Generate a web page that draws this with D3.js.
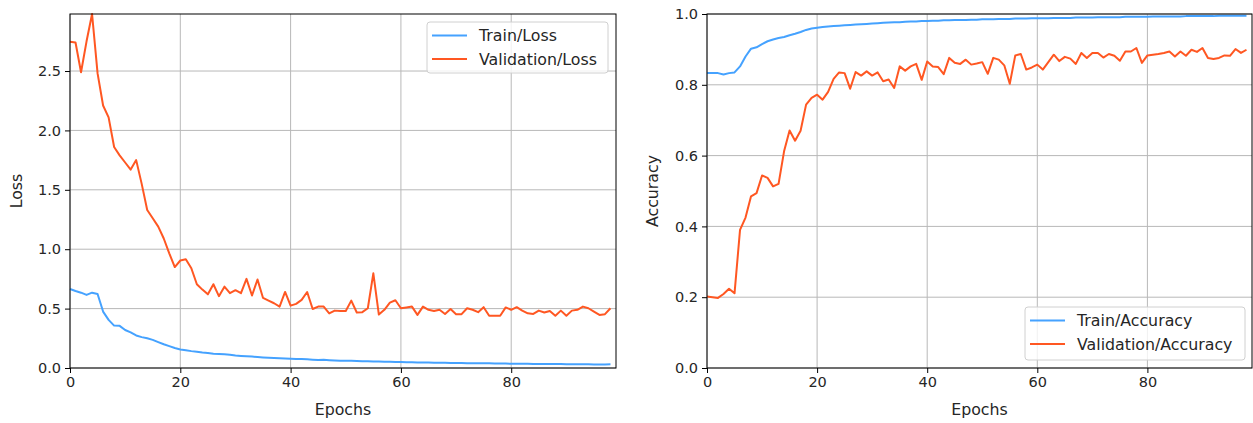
<!DOCTYPE html>
<html>
<head>
<meta charset="utf-8">
<script src="https://cdn.jsdelivr.net/npm/d3@7"></script>
<style>
  html, body { margin: 0; padding: 0; background: #fff; }
  svg { display: block; font-family: "DejaVu Sans", sans-serif; }
</style>
</head>
<body>
<svg id="chart" width="1253" height="423"></svg>
<script>
// ---------- data ----------
const epochs = d3.range(99);

const trainLoss = [0.665,0.648,0.634,0.615,0.634,0.623,0.475,0.405,0.357,0.355,
  0.320,0.300,0.274,0.260,0.250,0.237,0.218,0.200,0.184,0.168,
  0.156,0.150,0.142,0.136,0.130,0.126,0.120,0.117,0.115,0.112,
  0.106,0.102,0.099,0.096,0.092,0.089,0.087,0.085,0.083,0.080,
  0.078,0.076,0.075,0.073,0.070,0.068,0.069,0.066,0.064,0.062,
  0.060,0.060,0.058,0.057,0.056,0.055,0.054,0.053,0.052,0.051,
  0.050,0.049,0.048,0.047,0.047,0.046,0.045,0.045,0.044,0.043,
  0.043,0.042,0.041,0.041,0.040,0.040,0.039,0.038,0.038,0.037,
  0.036,0.036,0.036,0.035,0.034,0.034,0.034,0.033,0.033,0.033,
  0.032,0.032,0.031,0.031,0.031,0.030,0.030,0.030,0.032];

const valLoss = [2.746,2.740,2.490,2.750,2.980,2.480,2.210,2.110,1.860,1.790,
  1.730,1.670,1.750,1.550,1.330,1.260,1.190,1.090,0.965,0.850,
  0.905,0.915,0.840,0.705,0.660,0.620,0.705,0.605,0.685,0.630,
  0.655,0.630,0.750,0.610,0.745,0.590,0.567,0.545,0.517,0.640,
  0.525,0.540,0.573,0.640,0.497,0.517,0.517,0.460,0.483,0.480,
  0.480,0.567,0.467,0.470,0.503,0.797,0.450,0.490,0.550,0.570,
  0.503,0.510,0.517,0.447,0.517,0.490,0.480,0.490,0.455,0.497,
  0.453,0.453,0.503,0.490,0.470,0.512,0.440,0.440,0.440,0.510,
  0.490,0.512,0.483,0.460,0.455,0.483,0.467,0.480,0.440,0.483,
  0.440,0.483,0.490,0.517,0.503,0.475,0.447,0.453,0.503];

const trainAcc = [0.833,0.833,0.833,0.829,0.833,0.835,0.852,0.880,0.902,0.906,
  0.915,0.923,0.928,0.932,0.935,0.940,0.944,0.949,0.955,0.959,
  0.961,0.963,0.965,0.966,0.967,0.968,0.969,0.970,0.971,0.972,
  0.973,0.974,0.975,0.976,0.977,0.977,0.978,0.979,0.979,0.980,
  0.980,0.981,0.981,0.982,0.982,0.983,0.983,0.983,0.984,0.984,
  0.985,0.985,0.985,0.986,0.986,0.986,0.987,0.987,0.987,0.988,
  0.988,0.988,0.988,0.989,0.989,0.989,0.989,0.990,0.990,0.990,
  0.990,0.991,0.991,0.991,0.991,0.991,0.992,0.992,0.992,0.992,
  0.992,0.993,0.993,0.993,0.993,0.993,0.993,0.994,0.994,0.994,
  0.994,0.994,0.994,0.995,0.995,0.995,0.995,0.995,0.995];

const valAcc = [0.202,0.200,0.198,0.209,0.224,0.211,0.390,0.425,0.485,0.494,
  0.544,0.537,0.513,0.520,0.612,0.671,0.642,0.670,0.744,0.763,
  0.772,0.758,0.780,0.817,0.835,0.833,0.789,0.836,0.826,0.838,
  0.826,0.835,0.810,0.815,0.791,0.852,0.840,0.852,0.859,0.814,
  0.866,0.852,0.850,0.830,0.876,0.862,0.859,0.871,0.857,0.860,
  0.864,0.831,0.876,0.871,0.855,0.803,0.883,0.887,0.843,0.849,
  0.857,0.843,0.864,0.885,0.867,0.879,0.874,0.859,0.890,0.876,
  0.890,0.890,0.877,0.887,0.882,0.868,0.894,0.894,0.904,0.862,
  0.883,0.885,0.887,0.890,0.894,0.880,0.894,0.882,0.899,0.893,
  0.904,0.876,0.873,0.876,0.883,0.882,0.901,0.890,0.899];

const xTicks = [0, 20, 40, 60, 80];
const lossTicks = [0.0, 0.5, 1.0, 1.5, 2.0, 2.5];
const accTicks = [0.0, 0.2, 0.4, 0.6, 0.8, 1.0];
const seriesColors = { train: "#45a2ff", val: "#ff5722" };

// ---------- layout ----------
const svg = d3.select("#chart");
const TICK_FONT = 14.5;
const LABEL_FONT = 15.8;
const TEXT = "#262626";

function panel(opts) {
  const { left, right, top, bottom } = opts;
  const x = d3.scaleLinear().domain([0, 99]).range([left, right]);
  const y = d3.scaleLinear().domain(opts.yDomain).range([bottom, top]);
  const g = svg.append("g");

  // grid
  g.append("g").selectAll("line").data(xTicks).join("line")
    .attr("x1", d => x(d)).attr("x2", d => x(d))
    .attr("y1", top).attr("y2", bottom)
    .attr("stroke", "#b8b8b8").attr("stroke-width", 1);
  g.append("g").selectAll("line").data(opts.yTicks).join("line")
    .attr("x1", left).attr("x2", right)
    .attr("y1", d => y(d)).attr("y2", d => y(d))
    .attr("stroke", "#b8b8b8").attr("stroke-width", 1);

  // lines
  const line = arr => d3.line().x((d, i) => x(epochs[i])).y(d => y(d))(arr);
  g.append("path").attr("d", line(opts.train)).attr("fill", "none")
    .attr("stroke", seriesColors.train).attr("stroke-width", 2).attr("stroke-linejoin", "round");
  g.append("path").attr("d", line(opts.val)).attr("fill", "none")
    .attr("stroke", seriesColors.val).attr("stroke-width", 2).attr("stroke-linejoin", "round");

  // axes
  const xAxis = d3.axisBottom(x).tickValues(xTicks).tickSize(5).tickPadding(4).tickFormat(d3.format("d"));
  const yAxis = d3.axisLeft(y).tickValues(opts.yTicks).tickSize(5).tickPadding(4).tickFormat(d3.format(".1f"));
  const gx = g.append("g").attr("transform", `translate(0,${bottom})`).call(xAxis);
  const gy = g.append("g").attr("transform", `translate(${left},0)`).call(yAxis);
  [gx, gy].forEach(a => {
    a.select(".domain").remove();
    a.selectAll(".tick line").attr("stroke", "#000").attr("stroke-width", 1);
    a.selectAll(".tick text").attr("fill", TEXT).style("font-size", TICK_FONT + "px")
      .style("font-family", "DejaVu Sans");
  });

  // frame
  g.append("rect").attr("x", left).attr("y", top)
    .attr("width", right - left).attr("height", bottom - top)
    .attr("fill", "none").attr("stroke", "#000").attr("stroke-width", 1);

  // labels
  g.append("text").attr("x", (left + right) / 2).attr("y", bottom + 47)
    .attr("text-anchor", "middle").attr("fill", TEXT).style("font-size", LABEL_FONT + "px")
    .text("Epochs");
  g.append("text")
    .attr("transform", `translate(${left - opts.yLabelOffset},${(top + bottom) / 2}) rotate(-90)`)
    .attr("text-anchor", "middle").attr("fill", TEXT).style("font-size", LABEL_FONT + "px")
    .text(opts.yLabel);

  // legend
  const L = opts.legend;
  const lg = g.append("g");
  lg.append("rect").attr("x", L.x).attr("y", L.y).attr("width", L.w).attr("height", L.h)
    .attr("rx", 3).attr("fill", "#fff").attr("fill-opacity", 0.8)
    .attr("stroke", "#d0d0d0").attr("stroke-width", 1);
  const items = [
    { label: opts.names[0], color: seriesColors.train },
    { label: opts.names[1], color: seriesColors.val }
  ];
  items.forEach((it, i) => {
    const cy = L.y + 13.5 + i * 23.5;
    lg.append("line").attr("x1", L.x + 5).attr("x2", L.x + 40)
      .attr("y1", cy).attr("y2", cy)
      .attr("stroke", it.color).attr("stroke-width", 2);
    lg.append("text").attr("x", L.x + 52).attr("y", cy).attr("dy", "0.35em")
      .attr("fill", TEXT).style("font-size", LABEL_FONT + "px").text(it.label);
  });
}

panel({
  left: 70, right: 616, top: 14, bottom: 368,
  yDomain: [0, d3.max(valLoss)], yTicks: lossTicks,
  train: trainLoss, val: valLoss,
  yLabel: "Loss", yLabelOffset: 48,
  names: ["Train/Loss", "Validation/Loss"],
  legend: { x: 427, y: 22, w: 181, h: 51 }
});

panel({
  left: 707, right: 1252, top: 14, bottom: 368,
  yDomain: [0, 1], yTicks: accTicks,
  train: trainAcc, val: valAcc,
  yLabel: "Accuracy", yLabelOffset: 49,
  names: ["Train/Accuracy", "Validation/Accuracy"],
  legend: { x: 1025, y: 307, w: 220, h: 53 }
});
</script>
</body>
</html>
